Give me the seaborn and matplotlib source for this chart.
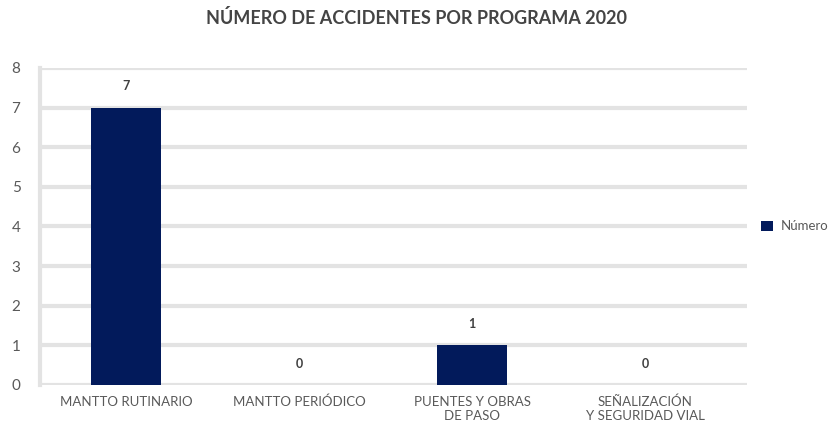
import matplotlib
matplotlib.use("Agg")
import matplotlib.pyplot as plt
import seaborn as sns
import pandas as pd

categorias = ["MANTTO RUTINARIO", "MANTTO PERIÓDICO", "PUENTES Y OBRAS\nDE PASO", "SEÑALIZACIÓN\nY SEGURIDAD VIAL"]
valores = [7, 0, 1, 0]
serie = "Número"
titulo = "NÚMERO DE ACCIDENTES POR PROGRAMA 2020"
yticks = [0, 1, 2, 3, 4, 5, 6, 7, 8]

sns.set_theme(style="white")
plt.rcParams['font.family'] = ['Lato', 'DejaVu Sans']

df = pd.DataFrame({"cat": categorias, "val": valores, "serie": serie})

fig = plt.figure(figsize=(8.32, 4.30), dpi=100)
ax = fig.add_axes([0.048, 0.105, 0.850, 0.737])
bar_color = "#021A5B"
grid_color = "#E3E3E3"
sns.barplot(data=df, x="cat", y="val", hue="serie", palette=[bar_color],
            width=0.405, ax=ax, saturation=1, linewidth=0)

ax.set_ylim(0, 8)
ax.set_yticks(yticks)
ax.set_xlim(-0.5, 3.59)
ax.set_xlabel("")
ax.set_ylabel("")
for y in yticks:
    ax.axhline(y, color=grid_color, lw=3, zorder=0)
for s in ["top", "right", "bottom"]:
    ax.spines[s].set_visible(False)
ax.spines["left"].set_color(grid_color)
ax.spines["left"].set_linewidth(3)
ax.tick_params(axis="y", length=0, pad=14, labelsize=11, labelcolor="#595959")
ax.tick_params(axis="x", length=0, pad=8, labelsize=9.5, labelcolor="#595959")

for i, v in enumerate(valores):
    ax.annotate(str(v), (i, v), xytext=(0, 11), textcoords="offset points",
                ha="center", va="bottom", fontsize=9, fontweight="bold", color="#404040")

sns.move_legend(ax, "center left", bbox_to_anchor=(1.007, 0.5), frameon=False,
                title=None, fontsize=9.5, handlelength=0.85, handleheight=0.85,
                handletextpad=0.6, borderaxespad=0.3, labelcolor="#595959")

fig.suptitle(titulo, x=0.5, y=0.978, fontsize=13, fontweight="bold", color="#444444")

fig.savefig("out.png", dpi=100)
